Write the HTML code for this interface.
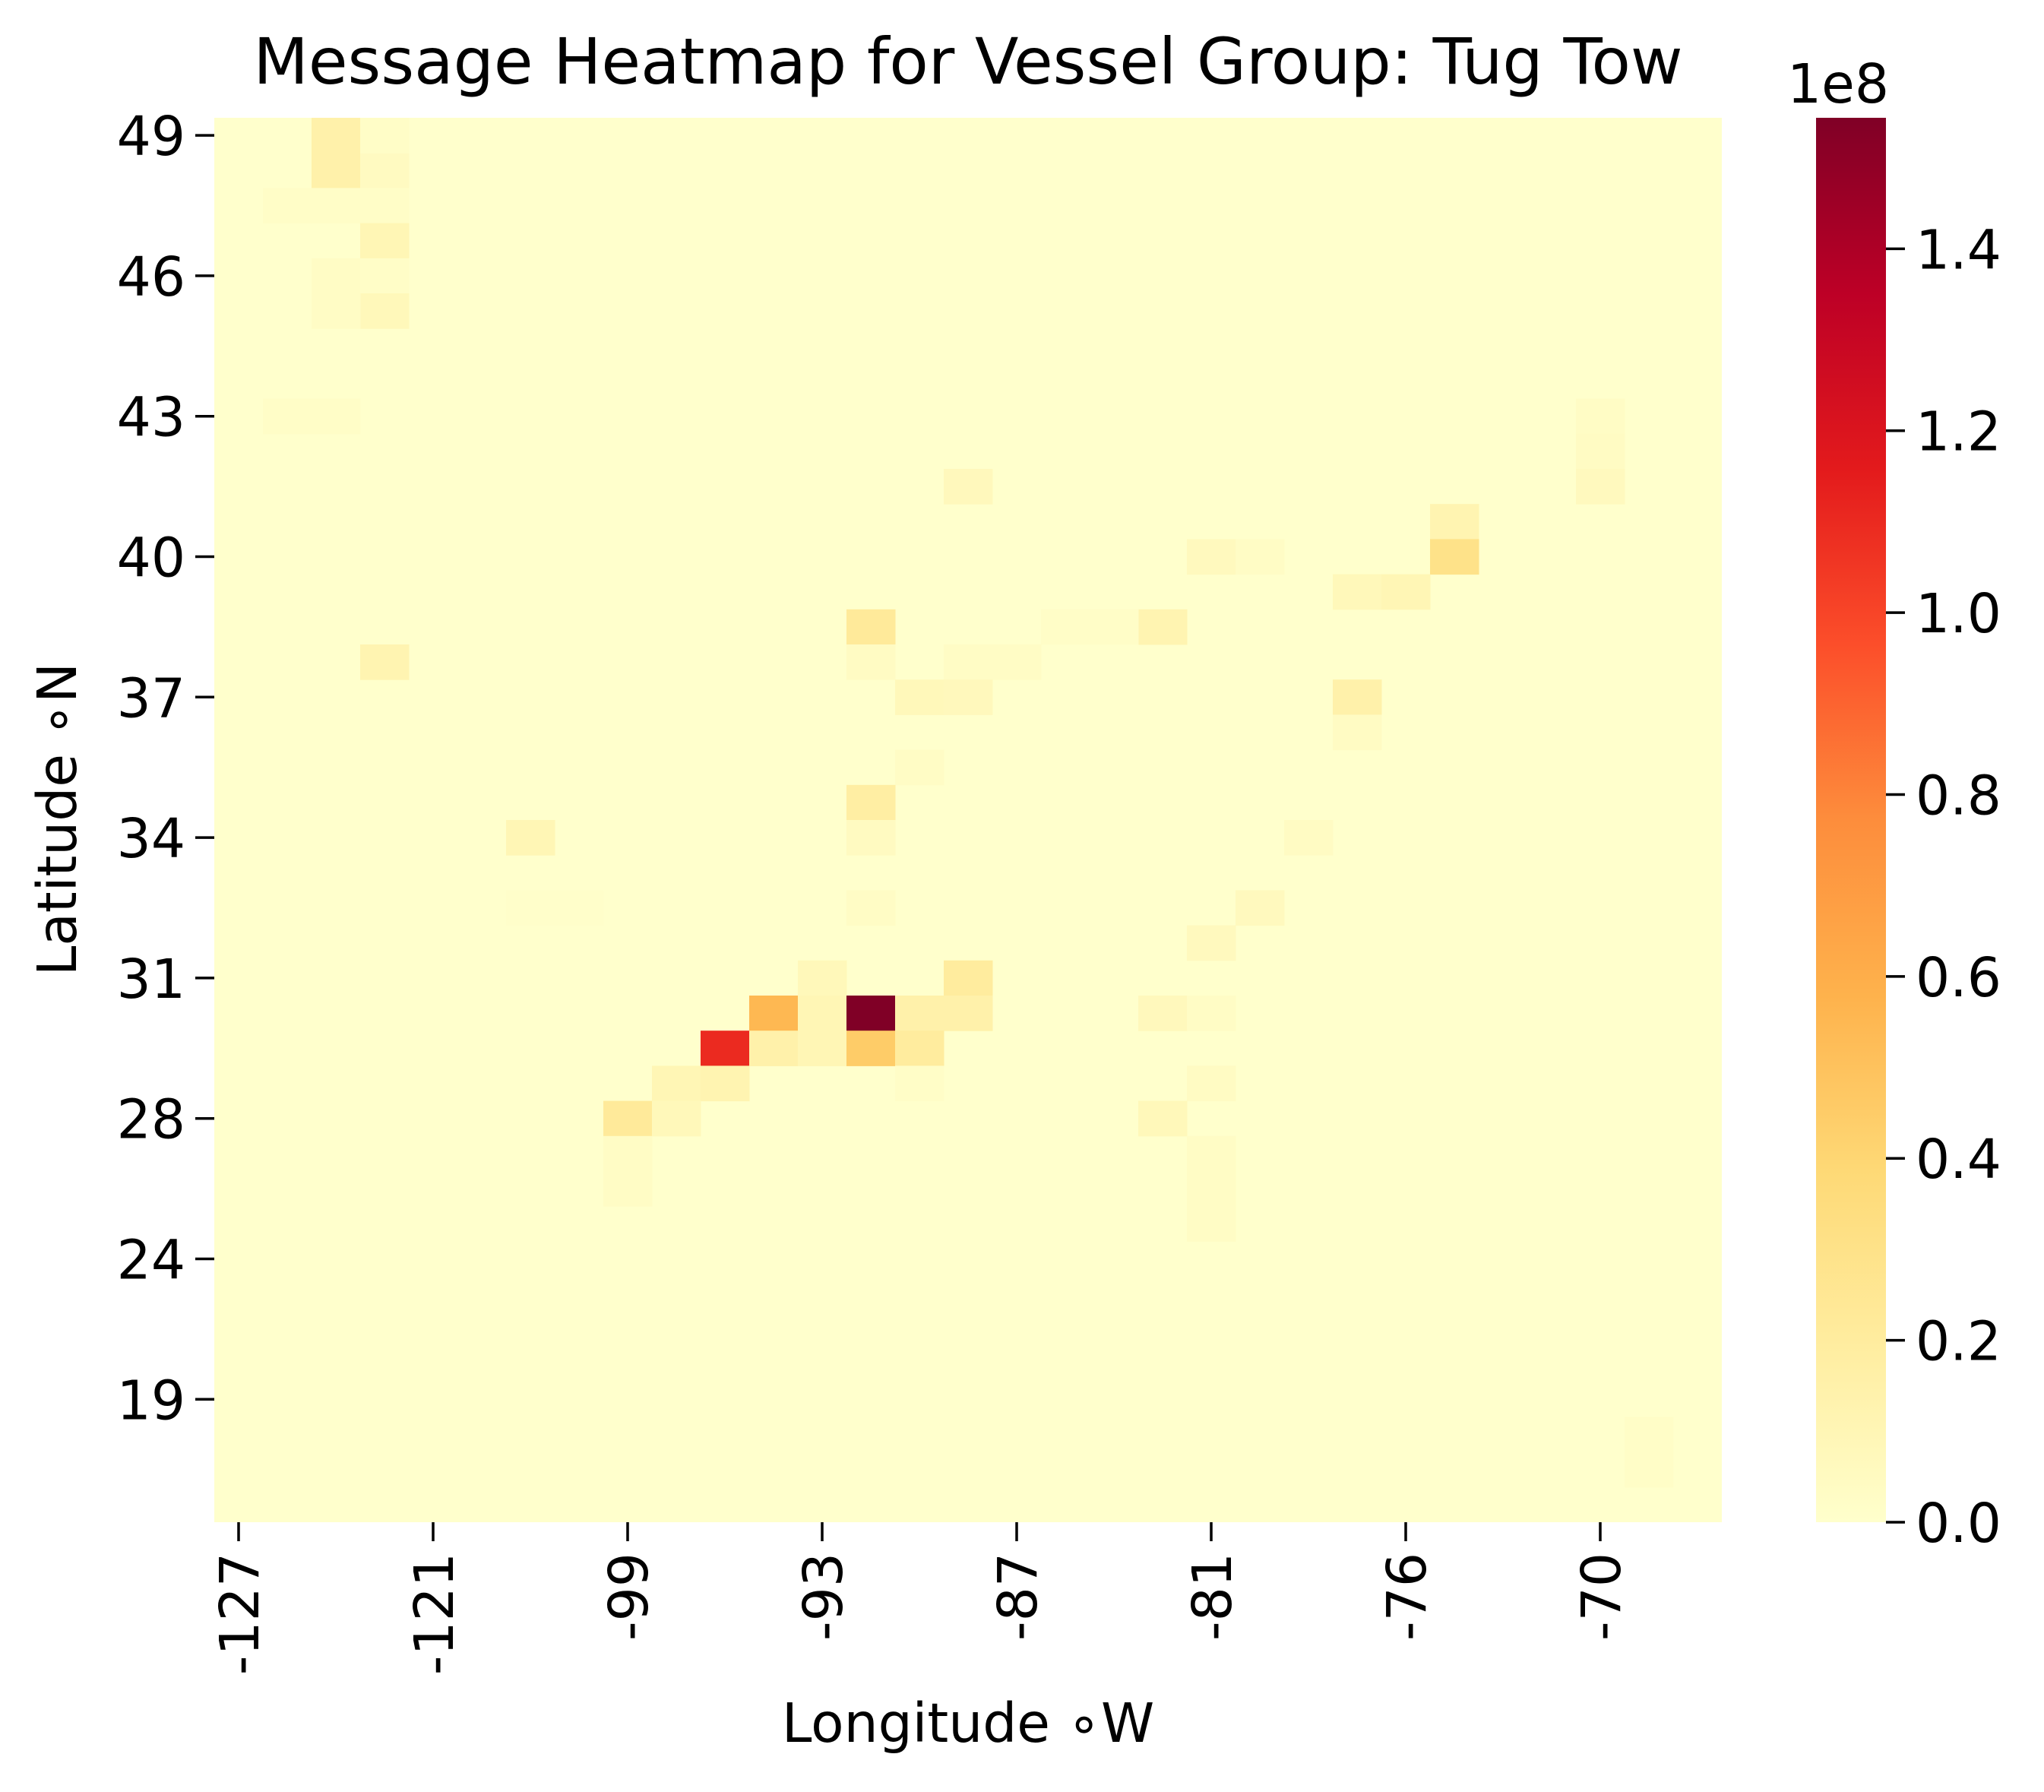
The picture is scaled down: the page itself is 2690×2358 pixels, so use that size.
<!DOCTYPE html>
<html><head><meta charset="utf-8"><style>
html,body{margin:0;padding:0;background:#fff}
svg{display:block;font-family:"DejaVu Sans","Liberation Sans",sans-serif}
</style></head><body>
<svg id="chart" width="2690" height="2358" viewBox="0 0 2690 2358">
<defs><linearGradient id="cbgrad" x1="0" y1="1" x2="0" y2="0">
<stop offset="0" stop-color="#ffffcc"/><stop offset="0.125" stop-color="#ffeda0"/><stop offset="0.25" stop-color="#fed976"/><stop offset="0.375" stop-color="#feb24c"/><stop offset="0.5" stop-color="#fd8d3c"/><stop offset="0.625" stop-color="#fc4e2a"/><stop offset="0.75" stop-color="#e31a1c"/><stop offset="0.875" stop-color="#bd0026"/><stop offset="1" stop-color="#800026"/>
</linearGradient></defs>
<text x="1274" y="110" font-size="84" text-anchor="middle">Message Heatmap for Vessel Group: Tug Tow</text>
<g id="cells"></g>
<g id="axes"></g>
<text x="1274" y="2292" font-size="71" text-anchor="middle">Longitude ∘W</text>
<text x="0" y="0" font-size="71" text-anchor="middle" transform="translate(100,1078) rotate(-90)">Latitude ∘N</text>
<rect x="2390" y="155" width="92" height="1848" fill="url(#cbgrad)"/>
<text x="2419" y="135" font-size="71" text-anchor="middle">1e8</text>
<g id="cbticks"></g>
</svg>
<script>
const nCols = 31;
const nRows = 40;
const xTickLabels = ["-127","-121","-99","-93","-87","-81","-76","-70"];
const yTickLabels = ["49","46","43","40","37","34","31","28","24","19"];
const cbTickValues = [0,0.2,0.4,0.6,0.8,1.0,1.2,1.4];
const vmax = 1.544;
const cellRows = [0,1,1,0,2,2,2,3,4,4,5,5,8,8,10,11,12,8,9,10,12,12,13,13,14,14,14,14,15,15,15,15,16,16,16,17,18,19,20,20,20,22,22,22,22,23,24,24,25,25,25,25,25,25,25,26,26,26,26,26,27,27,27,27,28,28,28,29,30,29,30,31,37,38];
const cellCols = [2,2,3,3,1,2,3,3,2,3,3,2,1,2,15,25,25,28,28,28,20,21,23,24,13,19,17,18,13,15,16,3,14,15,23,23,14,13,6,13,22,21,13,6,7,20,12,15,11,12,13,14,15,19,20,10,11,12,13,14,9,10,20,14,8,9,19,8,8,20,20,20,29,29];
const cellValues = [0.15,0.15,0.05,0.02,0.02,0.02,0.02,0.1,0.03,0.02,0.08,0.03,0.02,0.02,0.07,0.12,0.3,0.03,0.04,0.06,0.06,0.03,0.08,0.1,0.22,0.12,0.02,0.02,0.04,0.03,0.03,0.12,0.08,0.07,0.15,0.04,0.03,0.18,0.1,0.05,0.04,0.06,0.03,0.01,0.01,0.06,0.08,0.2,0.55,0.1,1.55,0.15,0.15,0.07,0.03,1.1,0.15,0.1,0.45,0.2,0.1,0.12,0.04,0.02,0.22,0.08,0.08,0.03,0.03,0.03,0.03,0.03,0.02,0.02];

const L=282,T=155,R=2266,B=2003;
const cw=(R-L)/nCols, ch=(B-T)/nRows;
const xPos=c=>L+c*cw, yPos=r=>T+r*ch;
const stops=["#ffffcc","#ffeda0","#fed976","#feb24c","#fd8d3c","#fc4e2a","#e31a1c","#bd0026","#800026"].map(h=>[1,3,5].map(i=>parseInt(h.substr(i,2),16)));
function cmap(v){let t=Math.max(0,Math.min(1,v/vmax))*(stops.length-1);let i=Math.min(Math.floor(t),stops.length-2),f=t-i;const a=stops[i],b=stops[i+1];return `rgb(${a.map((x,k)=>Math.round(x+(b[k]-x)*f)).join(',')})`;}
const NS="http://www.w3.org/2000/svg";
const cells=document.getElementById('cells');
const bg=document.createElementNS(NS,'rect');
bg.setAttribute('x',L);bg.setAttribute('y',T);bg.setAttribute('width',R-L);bg.setAttribute('height',B-T);bg.setAttribute('fill',cmap(0));


cells.appendChild(bg);
cellValues.forEach((v,i)=>{
 const r=document.createElementNS(NS,'rect');
 r.setAttribute('x',xPos(cellCols[i]));r.setAttribute('y',yPos(cellRows[i]));
 r.setAttribute('width',cw+0.5);r.setAttribute('height',ch+0.5);r.setAttribute('fill',cmap(v));
 
 
 cells.appendChild(r);
});
const axes=document.getElementById('axes');
xTickLabels.forEach((lab,i)=>{
 const x=xPos(i*4+0.5);
 const ln=document.createElementNS(NS,'line');
 ln.setAttribute('x1',x);ln.setAttribute('x2',x);ln.setAttribute('y1',B);ln.setAttribute('y2',B+25);ln.setAttribute('stroke','#000');ln.setAttribute('stroke-width','3.5');
 
 
 axes.appendChild(ln);
 const t=document.createElementNS(NS,'text');
 t.setAttribute('font-size','71');t.setAttribute('text-anchor','end');
 t.setAttribute('transform',`translate(${x+26},${B+40}) rotate(-90)`);
 t.textContent=lab;
 
 
 axes.appendChild(t);
});
yTickLabels.forEach((lab,i)=>{
 const y=yPos(i*4+0.5);
 const ln=document.createElementNS(NS,'line');
 ln.setAttribute('x1',L-25);ln.setAttribute('x2',L);ln.setAttribute('y1',y);ln.setAttribute('y2',y);ln.setAttribute('stroke','#000');ln.setAttribute('stroke-width','3.5');
 
 
 axes.appendChild(ln);
 const t=document.createElementNS(NS,'text');
 t.setAttribute('font-size','71');t.setAttribute('text-anchor','end');
 t.setAttribute('x',L-38);t.setAttribute('y',y+26);
 t.textContent=lab;
 
 
 axes.appendChild(t);
});
const cbt=document.getElementById('cbticks');
cbTickValues.forEach(v=>{
 const y=B-v/vmax*(B-T);
 const ln=document.createElementNS(NS,'line');
 ln.setAttribute('x1',2482);ln.setAttribute('x2',2507);ln.setAttribute('y1',y);ln.setAttribute('y2',y);ln.setAttribute('stroke','#000');ln.setAttribute('stroke-width','3.5');
 
 
 cbt.appendChild(ln);
 const t=document.createElementNS(NS,'text');
 t.setAttribute('font-size','71');t.setAttribute('x',2521);t.setAttribute('y',y+26);
 t.textContent=v.toFixed(1);
 
 
 cbt.appendChild(t);
});
</script>
</body></html>
